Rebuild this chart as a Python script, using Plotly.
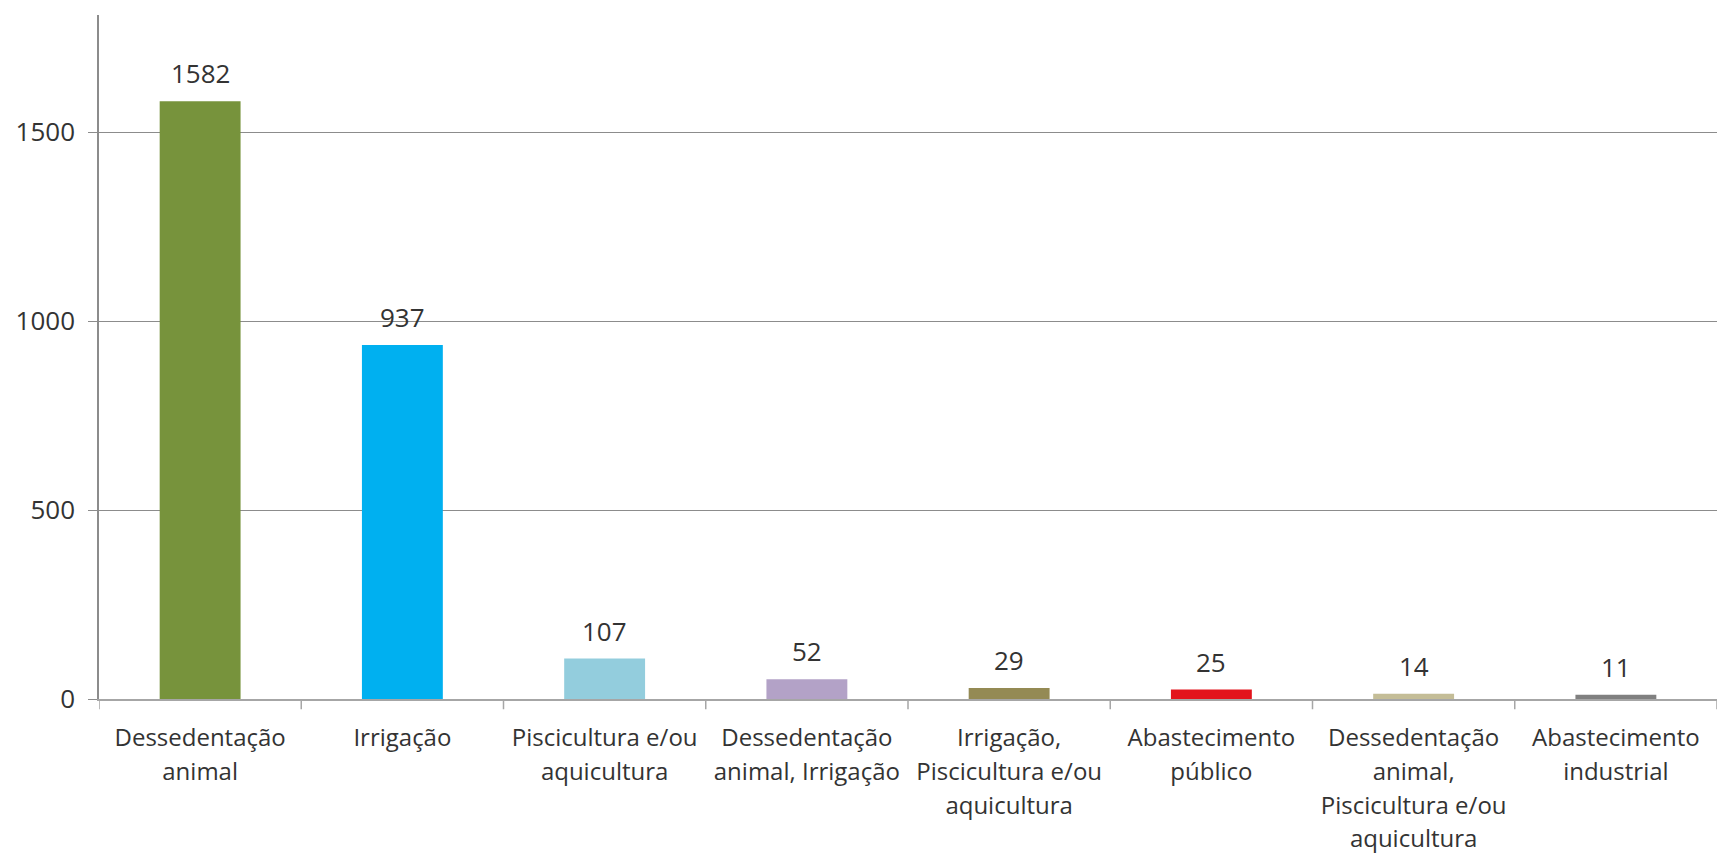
import plotly.graph_objects as go

# Usos da água: número de registros por finalidade
categorias = [
    "Dessedentação<br>animal",
    "Irrigação",
    "Piscicultura e/ou<br>aquicultura",
    "Dessedentação<br>animal, Irrigação",
    "Irrigação,<br>Piscicultura e/ou<br>aquicultura",
    "Abastecimento<br>público",
    "Dessedentação<br>animal,<br>Piscicultura e/ou<br>aquicultura",
    "Abastecimento<br>industrial",
]
valores = [1582, 937, 107, 52, 29, 25, 14, 11]
cores = ["#77933C", "#00B0F0", "#93CDDD", "#B3A2C7", "#948A54", "#E3141C", "#C4BD97", "#808080"]
y_ticks = [0, 500, 1000, 1500]

FONTE = "'Open Sans', Lato, sans-serif"
COR_TEXTO = "#333333"
LABEL_PX = 24


def rotulo(texto):
    # each line wrapped so the label font can be smaller than the line pitch
    linhas = texto.split("<br>")
    return "<br>".join(f'<span style="font-size:{LABEL_PX}px">{l}</span>' for l in linhas)


ids = list(range(len(categorias)))

fig = go.Figure(
    go.Bar(
        x=ids,
        y=valores,
        marker=dict(color=cores, line=dict(width=0)),
        width=0.4,
        hoverinfo="x+y",
    )
)

for i, v in zip(ids, valores):
    fig.add_annotation(
        x=i, y=v, text=str(v), showarrow=False,
        yanchor="middle", yshift=28,
        font=dict(family=FONTE, size=26, color=COR_TEXTO),
    )

fig.update_layout(
    width=1717, height=855,
    margin=dict(l=99, r=0, t=15, b=156),
    plot_bgcolor="white", paper_bgcolor="white",
    showlegend=False,
    font=dict(family=FONTE, color=COR_TEXTO),
)

fig.update_xaxes(
    type="linear",
    range=[-0.5, len(categorias) - 0.5],
    tickmode="array",
    tickvals=ids,
    ticktext=[rotulo(c) for c in categorias],
    tickfont=dict(family=FONTE, size=26, color=COR_TEXTO),
    ticks="",
    ticklabelstandoff=14,
    showline=True, linecolor="#A6A6A6", linewidth=1.5,
    showgrid=False, zeroline=False,
)

# boundary tick marks between categories
for b in [i - 0.5 for i in range(len(categorias) + 1)]:
    fig.add_shape(
        type="line", xref="x", yref="paper",
        x0=b, x1=b, y0=0, y1=-0.015,
        line=dict(color="#A6A6A6", width=1.5),
    )

fig.update_yaxes(
    range=[0, 1810],
    tickmode="array",
    tickvals=y_ticks,
    ticktext=[str(t) for t in y_ticks],
    tickfont=dict(family=FONTE, size=26, color=COR_TEXTO),
    ticks="outside", ticklen=9, tickcolor="#8C8C8C", tickwidth=1,
    showline=True, linecolor="#8C8C8C", linewidth=1.5,
    showgrid=True, gridcolor="#8C8C8C", gridwidth=1,
    zeroline=False,
    ticklabelstandoff=8,
)

fig.write_html("out.html")
